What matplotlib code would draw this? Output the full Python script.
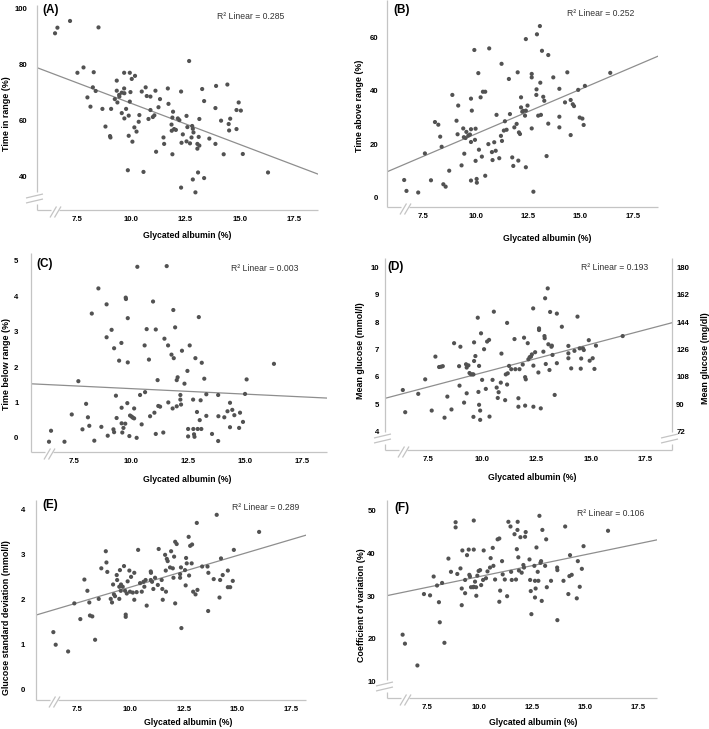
import numpy as np
import matplotlib.pyplot as plt

plt.rcParams['font.family'] = ['Liberation Sans', 'DejaVu Sans']

# (A) glycated albumin vs time in range
ga_a = [6.50, 6.61, 7.19, 8.50, 7.53, 7.81, 8.28, 8.24, 8.37, 7.99, 8.13, 8.68, 8.82, 9.08, 9.03, 9.05, 9.34, 9.34,
        9.45, 9.46, 9.57, 9.68, 9.68, 9.69, 9.25, 9.37, 9.57, 9.69, 9.77, 9.89, 9.94, 9.97, 9.94, 10.03, 10.18, 10.06,
        10.15, 10.25, 10.35, 10.38, 9.85, 9.89, 10.49, 10.67, 10.72, 10.89, 10.89, 10.80, 10.57, 11.12, 11.33, 11.26,
        11.07, 11.15, 11.00, 11.90, 11.49, 11.52, 11.69, 11.72, 11.86, 11.87, 11.93, 11.90, 11.98, 12.06, 12.15, 12.22,
        12.30, 12.32, 12.38, 12.55, 12.55, 12.59, 12.67, 12.78, 12.81, 12.84, 12.87, 12.71, 12.84, 12.96, 13.08, 13.05,
        13.14, 13.05, 13.11, 13.14, 13.27, 13.36, 13.36, 13.60, 13.88, 13.91, 13.88, 14.14, 14.26, 14.43, 14.51, 14.49,
        14.56, 14.85, 14.85, 14.95, 15.05, 15.14, 16.30, 12.30]
tir = [91.2, 93.2, 95.6, 93.3, 77.1, 79.0, 77.3, 71.9, 70.6, 68.3, 65.0, 64.2, 57.9, 64.2, 54.5, 54.0, 74.3, 70.7,
       69.2, 68.6, 70.0, 77.1, 71.5, 69.8, 67.7, 66.5, 62.7, 60.8, 64.2, 61.8, 77.1, 70.2, 66.8, 74.9, 76.0, 52.5,
       57.6, 56.1, 59.6, 62.0, 42.3, 54.6, 70.4, 71.9, 68.8, 68.6, 63.8, 60.6, 41.7, 70.7, 67.7, 64.8, 61.9, 48.9,
       61.3, 48.0, 54.0, 51.7, 71.5, 66.0, 58.6, 56.4, 63.2, 61.1, 57.0, 56.7, 60.8, 60.2, 70.4, 52.1, 55.1, 61.7,
       52.6, 57.7, 81.3, 54.0, 58.1, 57.1, 55.8, 51.9, 39.0, 34.4, 41.5, 51.7, 51.1, 50.0, 54.2, 60.6, 71.3, 67.0,
       39.5, 53.6, 51.7, 72.4, 64.5, 60.0, 48.0, 72.9, 56.5, 58.8, 60.7, 57.0, 63.8, 66.5, 63.6, 48.1, 41.5, 36.1]

# (B) time above range
ga_b = [6.59, 6.70, 7.26, 7.87, 7.58, 8.06, 8.22, 8.31, 8.38, 8.46, 8.57, 8.74, 8.89, 9.09, 9.14, 9.17, 9.33, 9.41,
        9.44, 9.46, 9.52, 9.56, 9.65, 9.73, 9.78, 9.78, 9.78, 9.82, 9.78, 9.94, 9.97, 10.00, 10.00, 10.05, 10.06,
        10.13, 10.16, 10.24, 10.30, 10.35, 10.46, 10.46, 10.61, 10.65, 10.78, 10.81, 10.89, 10.96, 11.00, 11.13,
        11.21, 11.26, 11.24, 11.35, 11.40, 11.48, 11.59, 11.64, 11.75, 11.80, 11.85, 11.96, 12.01, 12.04, 12.07,
        12.12, 12.17, 12.17, 12.23, 12.28, 12.36, 12.40, 12.40, 12.40, 12.48, 12.68, 12.68, 12.68, 12.76, 12.90,
        12.91, 12.93, 12.99, 13.07, 13.09, 13.12, 13.17, 13.23, 13.28, 13.39, 13.47, 13.47, 13.71, 14.00, 14.00,
        14.00, 14.27, 14.38, 14.54, 14.54, 14.64, 14.70, 14.90, 14.97, 15.10, 15.16, 15.22, 16.43]
tar = [6.5, 2.4, 1.8, 6.4, 16.5, 28.3, 27.3, 22.8, 19.0, 4.9, 4.0, 10.0, 38.5, 28.8, 23.7, 34.5, 12.0, 25.9, 22.6,
       16.4, 22.3, 24.6, 23.2, 23.6, 37.1, 25.6, 20.8, 32.6, 6.3, 55.4, 21.6, 25.8, 13.7, 6.9, 5.5, 46.7, 17.9, 37.6,
       15.3, 39.7, 39.7, 8.1, 20.0, 56.0, 17.0, 14.0, 20.7, 17.5, 31.0, 14.7, 23.1, 21.2, 50.2, 25.1, 28.6, 25.4,
       44.5, 31.3, 15.0, 11.8, 26.3, 27.6, 47.0, 13.8, 24.4, 23.8, 37.6, 33.8, 32.2, 32.5, 30.7, 32.6, 11.3, 59.5,
       34.5, 46.4, 45.1, 25.9, 2.1, 38.5, 40.6, 61.3, 30.7, 64.4, 43.1, 31.0, 55.1, 37.8, 36.3, 15.5, 53.5, 27.7,
       45.1, 30.3, 26.3, 40.8, 35.7, 47.0, 36.6, 23.4, 35.0, 34.3, 40.4, 30.0, 29.6, 27.2, 41.9, 46.8]

# (C) time below range
ga_c = [6.40, 6.49, 7.08, 7.40, 7.69, 7.87, 8.03, 8.11, 8.17, 8.28, 8.39, 8.57, 8.70, 8.93, 8.93, 8.98, 9.15, 9.23,
        9.26, 9.26, 9.34, 9.37, 9.48, 9.58, 9.59, 9.59, 9.62, 9.67, 9.75, 9.77, 9.78, 9.84, 9.86, 9.86, 9.93, 9.96,
        10.03, 10.08, 10.14, 10.14, 10.25, 10.28, 10.40, 10.47, 10.60, 10.62, 10.69, 10.79, 10.84, 10.97, 11.03,
        11.09, 11.09, 11.17, 11.20, 11.28, 11.42, 11.47, 11.57, 11.63, 11.64, 11.78, 11.83, 11.86, 11.88, 11.94,
        12.01, 12.05, 12.01, 12.17, 12.17, 12.20, 12.24, 12.35, 12.48, 12.51, 12.51, 12.58, 12.73, 12.74, 12.77,
        12.79, 12.83, 12.90, 12.93, 12.98, 13.02, 13.06, 13.09, 13.11, 13.22, 13.31, 13.31, 13.56, 13.83, 13.84,
        13.83, 14.10, 14.24, 14.35, 14.35, 14.45, 14.54, 14.75, 14.79, 14.92, 15.01, 15.08, 16.28]
tbr = [-0.11, 0.20, -0.11, 0.66, 1.60, 0.24, 0.96, 0.58, 0.34, 3.51, -0.08, 4.22, 0.31, 3.77, 2.84, 0.06, 3.05, 0.24,
       0.16, 2.53, 1.19, 0.56, 2.18, 2.68, 0.85, 0.41, 0.15, 0.28, 0.40, 3.96, 3.92, 0.98, 3.38, 2.13, 0.05, 0.63,
       0.60, 0.57, 0.55, 0.83, 0.00, 4.83, 1.21, 0.38, 2.61, 1.29, 3.07, 2.21, 0.61, 3.85, 0.71, 3.06, 0.11, 1.63,
       0.90, 0.88, 0.15, 2.80, 4.85, 2.61, 1.00, 2.35, 0.83, 3.61, 2.25, 3.12, 1.63, 1.71, 0.89, 1.21, 1.08, 0.94,
       2.46, 1.53, 1.89, 0.25, 0.04, 2.61, 1.08, 0.25, 0.10, 0.03, 2.25, 0.73, 0.25, 3.41, 0.50, 1.06, 0.25, 2.12,
       1.67, 1.23, 0.62, 0.11, 1.21, 0.61, -0.09, 0.58, 0.75, 0.99, 0.30, 0.79, 0.64, 0.28, 0.71, 0.45, 1.24, 1.65,
       2.09]

# (D) mean glucose, mmol/l
ga_d = [6.35, 6.46, 7.06, 7.38, 7.68, 7.85, 8.02, 8.11, 8.19, 8.27, 8.40, 8.59, 8.71, 8.94, 8.96, 9.00, 9.17, 9.29,
        9.26, 9.29, 9.37, 9.42, 9.49, 9.56, 9.60, 9.60, 9.63, 9.63, 9.69, 9.80, 9.83, 9.86, 9.86, 9.91, 9.91, 9.95,
        10.00, 10.09, 10.17, 10.23, 10.32, 10.34, 10.48, 10.54, 10.67, 10.72, 10.76, 10.86, 10.89, 11.06, 11.15,
        11.15, 11.09, 11.18, 11.24, 11.34, 11.49, 11.53, 11.67, 11.72, 11.67, 11.87, 11.93, 11.98, 12.01, 11.98,
        12.10, 12.13, 12.19, 12.25, 12.29, 12.35, 12.36, 12.36, 12.44, 12.59, 12.62, 12.62, 12.70, 12.82, 12.87,
        12.88, 12.90, 12.93, 13.02, 13.05, 13.10, 13.13, 13.19, 13.24, 13.21, 13.34, 13.44, 13.44, 13.67, 13.97,
        13.97, 13.97, 14.10, 14.25, 14.39, 14.49, 14.56, 14.54, 14.64, 14.68, 14.91, 14.95, 15.09, 15.17, 15.24,
        16.47]
mg = [5.52, 4.71, 5.38, 5.91, 4.77, 6.74, 6.36, 6.37, 6.39, 4.51, 5.28, 4.81, 7.23, 6.39, 5.68, 7.10, 5.06, 5.40,
      6.46, 6.34, 6.42, 6.14, 6.09, 6.09, 6.09, 4.54, 7.26, 6.58, 6.76, 8.16, 5.45, 6.40, 4.98, 4.77, 4.43, 7.59,
      5.89, 7.01, 5.56, 7.29, 7.35, 4.55, 5.89, 8.38, 5.61, 5.23, 5.44, 5.79, 6.85, 5.15, 7.97, 5.72, 6.09, 6.13,
      6.40, 6.28, 7.38, 6.28, 5.22, 6.28, 4.91, 6.45, 7.43, 5.99, 5.91, 4.95, 7.23, 6.64, 6.72, 6.74, 6.82, 8.50,
      4.91, 6.41, 6.90, 6.16, 7.77, 7.71, 4.85, 6.92, 7.49, 7.41, 8.87, 6.47, 9.23, 7.19, 6.25, 8.37, 7.10, 6.80,
      7.14, 5.34, 6.50, 8.31, 7.83, 7.13, 6.86, 6.68, 6.31, 6.95, 8.20, 7.04, 6.67, 6.30, 7.04, 6.98, 7.34, 6.59,
      6.68, 6.29, 7.14, 7.49]

# (E) glucose SD
ga_e = [6.41, 6.52, 7.10, 7.39, 7.67, 7.86, 8.00, 8.09, 8.12, 8.23, 8.36, 8.53, 8.65, 8.86, 8.89, 8.93, 9.09, 9.15,
        9.20, 9.24, 9.29, 9.37, 9.39, 9.49, 9.49, 9.52, 9.56, 9.57, 9.65, 9.71, 9.76, 9.79, 9.79, 9.84, 9.88, 9.96,
        9.99, 10.04, 10.12, 10.19, 10.19, 10.30, 10.37, 10.46, 10.54, 10.62, 10.66, 10.72, 10.77, 10.96, 10.97,
        10.96, 11.02, 11.08, 11.16, 11.29, 11.33, 11.47, 11.50, 11.52, 11.63, 11.66, 11.67, 11.71, 11.75, 11.86,
        11.91, 11.99, 12.02, 12.05, 12.10, 12.10, 12.17, 12.33, 12.33, 12.37, 12.39, 12.56, 12.59, 12.61, 12.64,
        12.73, 12.75, 12.80, 12.87, 12.89, 12.94, 13.05, 13.11, 13.14, 13.36, 13.61, 13.64, 13.65, 13.90, 14.04,
        14.17, 14.20, 14.24, 14.32, 14.56, 14.56, 14.67, 14.79, 14.84, 16.02]
sd = [1.27, 0.99, 0.84, 1.91, 1.56, 2.44, 2.19, 1.93, 1.64, 1.62, 1.10, 2.01, 2.69, 3.07, 2.82, 2.61, 2.01, 1.93,
      2.33, 2.11, 2.07, 2.54, 2.43, 2.01, 2.28, 2.65, 2.19, 2.33, 2.28, 2.74, 2.19, 1.66, 1.61, 2.13, 2.40, 2.64,
      2.17, 2.50, 2.15, 2.59, 1.99, 2.16, 3.10, 2.36, 2.17, 2.39, 2.28, 2.43, 1.86, 2.62, 2.59, 2.43, 2.39, 2.23,
      2.48, 2.32, 3.12, 2.43, 2.23, 1.99, 2.99, 2.64, 2.17, 2.90, 2.85, 2.71, 3.07, 2.69, 2.48, 2.95, 1.91, 3.28,
      3.23, 2.56, 2.48, 2.71, 1.36, 2.65, 2.31, 2.92, 2.80, 3.39, 2.53, 3.19, 2.80, 3.22, 2.17, 2.11, 3.70, 2.21,
      2.73, 2.73, 1.74, 2.59, 2.45, 3.88, 2.04, 2.43, 2.91, 2.54, 2.64, 2.27, 2.27, 2.41, 3.10, 3.50]

# (F) coefficient of variation
ga_f = [6.36, 6.47, 7.06, 7.37, 7.66, 7.83, 7.99, 8.08, 8.12, 8.23, 8.34, 8.53, 8.65, 8.87, 8.87, 8.95, 9.10, 9.16,
        9.19, 9.16, 9.32, 9.32, 9.41, 9.49, 9.52, 9.55, 9.60, 9.70, 9.73, 9.73, 9.73, 9.79, 9.84, 9.85, 9.90, 9.96,
        10.03, 10.08, 10.20, 10.17, 10.31, 10.38, 10.50, 10.53, 10.63, 10.66, 10.74, 10.86, 10.94, 10.94, 10.98,
        11.07, 11.10, 11.20, 11.31, 11.37, 11.47, 11.50, 11.53, 11.66, 11.73, 11.77, 11.80, 11.81, 11.84, 11.87,
        11.94, 12.00, 12.08, 12.11, 12.16, 12.19, 12.37, 12.40, 12.43, 12.46, 12.60, 12.63, 12.63, 12.66, 12.70,
        12.76, 12.79, 12.84, 12.89, 12.92, 12.95, 12.98, 13.11, 13.16, 13.19, 13.39, 13.68, 13.69, 13.69, 13.98,
        14.06, 14.21, 14.26, 14.37, 14.29, 14.61, 14.66, 14.75, 14.85, 14.93, 16.09]
cv = [21.0, 18.9, 13.8, 30.5, 30.2, 34.6, 32.5, 28.6, 23.9, 33.1, 19.1, 38.8, 35.7, 47.3, 46.1, 35.2, 36.5, 27.9,
      40.7, 31.8, 30.7, 33.8, 39.6, 40.9, 35.0, 34.6, 32.1, 32.1, 40.9, 47.7, 32.2, 33.4, 32.1, 30.1, 34.8, 35.9,
      36.1, 32.6, 40.7, 33.8, 34.2, 35.8, 36.7, 38.9, 41.3, 37.1, 33.9, 43.3, 43.5, 28.7, 31.3, 38.2, 35.1, 33.9,
      30.0, 47.4, 46.3, 35.7, 33.8, 44.5, 33.9, 41.0, 45.5, 47.4, 39.1, 36.0, 43.8, 35.5, 37.3, 36.7, 43.9, 45.0,
      38.6, 33.8, 31.2, 25.8, 37.1, 33.6, 29.7, 31.8, 41.4, 35.7, 33.6, 48.8, 37.8, 38.2, 28.9, 45.5, 37.1, 43.3,
      32.1, 33.6, 36.7, 36.1, 24.4, 33.6, 46.3, 30.5, 34.7, 35.0, 39.6, 29.5, 38.2, 32.2, 36.4, 41.7, 45.3]

# linear fits (intercept, slope) and R2 as printed
intercepts = [95.6, -9.8, 1.70, 4.06, 0.86, 24.4]
slopes = [-2.94, 3.36, -0.031, 0.209, 0.141, 1.02]
r2 = ['0.285', '0.252', '0.003', '0.193', '0.289', '0.106']

letters = ['(A)', '(B)', '(C)', '(D)', '(E)', '(F)']
ylabels = ['Time in range (%)', 'Time above range (%)', 'Time below range (%)',
           'Mean glucose (mmol/l)', 'Glucose standard deviation (mmol/l)', 'Coefficient of variation (%)']
xlabel = 'Glycated albumin (%)'
xticks = [7.5, 10.0, 12.5, 15.0, 17.5]
yticks = [[40, 60, 80, 100], [0, 20, 40, 60], [0, 1, 2, 3, 4, 5],
          [4, 5, 6, 7, 8, 9, 10], [0, 1, 2, 3, 4], [10, 20, 30, 40, 50]]
mgdl_ticks = [72, 90, 108, 126, 144, 162, 180]

xs = [ga_a, ga_b, ga_c, ga_d, ga_e, ga_f]
ys = [tir, tar, tbr, mg, sd, cv]

W, H = 709, 729
SPINE = '#c4c4c4'
DOT = '#525252'
LINE = '#8e8e8e'

# axes boxes in pixels: left, top, right, bottom
boxes = [(37, 5, 318, 210), (387, 0, 658, 207), (31, 253, 327, 452),
         (385, 258, 672, 450), (36, 500, 306, 700), (387, 500, 657, 698)]
xlims = [(5.67, 18.6), (5.77, 18.71), (5.61, 18.61), (5.53, 18.74), (5.60, 18.21), (5.62, 18.41)]
ylims = [(28.1, 101.3), (-3.65, 74.2), (-0.40, 5.22), (3.33, 10.34), (-0.24, 4.21), (6.19, 52.5)]
ybreak = [True, False, False, True, False, True]
letter_pos = [(0.02, 0.976), (0.022, 0.952), (0.017, 0.945), (0.007, 0.953), (0.022, 0.975), (0.026, 0.96)]
r2_pos = [(0.76, 0.946), (0.79, 0.937), (0.79, 0.92), (0.80, 0.953), (0.85, 0.96), (0.83, 0.934)]
xlab_pos = [(0.534, 21), (0.59, 27), (0.527, 23), (0.512, 23), (0.563, 18), (0.54, 20)]
ylab_pos = [(26, 0.47), (23, 0.49), (20, 0.44), (20, 0.52), (25, 0.41), (21, 0.47)]
ypad = [7, 6.5, 9, 4, 8, 8]


def draw_frame(ax, ybrk, right=False):
    w, h = ax.bbox.width, ax.bbox.height
    kw = dict(transform=ax.transAxes, color=SPINE, lw=0.9, clip_on=False, solid_capstyle='butt')
    ax.plot([0, 14 / w], [0, 0], **kw)
    ax.plot([22 / w, 1], [0, 0], **kw)
    for d in (13, 17.5):
        ax.plot([d / w, (d + 6.5) / w], [-7.5 / h, 3.5 / h], **kw)
    sides = [0, 1] if right else [0]
    for s in sides:
        if ybrk:
            ax.plot([s, s], [0, 6 / h], **kw)
            ax.plot([s, s], [18 / h, 1], **kw)
            for yy in (7, 12):
                ax.plot([s - 11 / w, s + 6 / w], [yy / h, (yy + 4) / h], **kw)
        else:
            ax.plot([s, s], [0, 1], **kw)


fig = plt.figure(figsize=(W / 100, H / 100), dpi=100)

for i in range(6):
    l, t, r, b = boxes[i]
    ax = fig.add_axes([l / W, 1 - b / H, (r - l) / W, (b - t) / H])
    ax.scatter(xs[i], ys[i], s=9, color=DOT, edgecolors='none', zorder=3)
    lx = np.array(xlims[i])
    ax.plot(lx, intercepts[i] + slopes[i] * lx, color=LINE, lw=0.9, zorder=2)
    ax.set_xlim(xlims[i])
    ax.set_ylim(ylims[i])
    ax.set_xticks(xticks)
    ax.set_xticklabels(['%.1f' % v for v in xticks])
    ax.set_yticks(yticks[i])
    for sp in ax.spines.values():
        sp.set_visible(False)
    ax.tick_params(length=0, labelsize=5.6)
    ax.tick_params(axis='x', pad=4)
    ax.tick_params(axis='y', pad=ypad[i])
    for lab in ax.get_xticklabels() + ax.get_yticklabels():
        lab.set_fontweight('bold')
    w, h = ax.bbox.width, ax.bbox.height
    ax.set_xlabel(xlabel, fontsize=6.2, fontweight='bold')
    ax.xaxis.set_label_coords(xlab_pos[i][0], -xlab_pos[i][1] / h)
    ax.set_ylabel(ylabels[i], fontsize=6.4, fontweight='bold')
    ax.yaxis.set_label_coords(-ylab_pos[i][0] / w, ylab_pos[i][1])
    ax.text(*letter_pos[i], letters[i], transform=ax.transAxes, fontsize=8.5,
            fontweight='bold', ha='left', va='center')
    ax.text(*r2_pos[i], 'R² Linear = ' + r2[i], transform=ax.transAxes, fontsize=6.2,
            color='#333333', ha='center', va='center')
    draw_frame(ax, ybreak[i], right=(i == 3))

    if i == 3:
        ax2 = ax.twinx()
        ax2.set_ylim(ylims[i][0] * 18, ylims[i][1] * 18)
        ax2.set_yticks(mgdl_ticks)
        for sp in ax2.spines.values():
            sp.set_visible(False)
        ax2.tick_params(length=0, labelsize=5.6, pad=3)
        for lab in ax2.get_yticklabels():
            lab.set_fontweight('bold')
        ax2.set_ylabel('Mean glucose (mg/dl)', fontsize=6.4, fontweight='bold', rotation=90)
        ax2.yaxis.set_label_coords(1 + 29 / w, 0.48)

fig.savefig('out.png', dpi=100)
